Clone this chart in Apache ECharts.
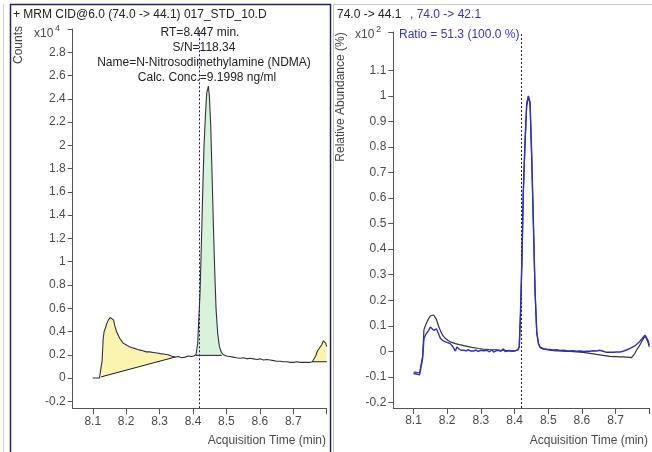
<!DOCTYPE html>
<html><head><meta charset="utf-8">
<script src="https://cdn.jsdelivr.net/npm/echarts@6/dist/echarts.min.js"></script>
<style>html,body{margin:0;padding:0;background:#fff}#c{width:652px;height:452px}</style>
</head><body><div id="c"></div>
<script>
// ---------- DATA ----------
// Left panel: quantifier trace (Counts x10^4)
const timeL = [8.100,8.105,8.110,8.115,8.120,8.125,8.128,8.131,8.134,8.138,8.142,8.147,8.152,8.157,8.162,8.166,8.171,8.176,8.181,8.186,8.191,8.197,8.203,8.210,8.218,8.226,8.234,8.242,8.250,8.260,8.270,8.281,8.292,8.303,8.315,8.325,8.335,8.346,8.356,8.366,8.376,8.386,8.396,8.402,8.409,8.414,8.418,8.421,8.425,8.429,8.433,8.437,8.441,8.446,8.449,8.453,8.457,8.461,8.465,8.469,8.474,8.479,8.485,8.491,8.500,8.510,8.520,8.530,8.541,8.551,8.561,8.571,8.581,8.591,8.601,8.611,8.621,8.631,8.641,8.651,8.661,8.671,8.681,8.691,8.701,8.711,8.721,8.731,8.741,8.751,8.757,8.762,8.767,8.772,8.779,8.786,8.790,8.793,8.797,8.800];
const countsL = [0.000,-0.005,0.000,-0.005,0.000,0.010,0.150,0.330,0.400,0.430,0.470,0.500,0.520,0.520,0.500,0.450,0.400,0.370,0.340,0.320,0.300,0.290,0.280,0.270,0.260,0.255,0.245,0.240,0.235,0.225,0.225,0.220,0.215,0.210,0.205,0.200,0.190,0.180,0.185,0.175,0.180,0.190,0.185,0.190,0.200,0.300,0.550,0.730,1.150,1.600,2.000,2.250,2.450,2.510,2.420,2.170,1.750,1.310,0.920,0.590,0.380,0.270,0.220,0.200,0.190,0.185,0.180,0.175,0.170,0.175,0.165,0.170,0.165,0.160,0.165,0.155,0.160,0.155,0.150,0.145,0.145,0.140,0.140,0.135,0.135,0.140,0.135,0.135,0.135,0.135,0.140,0.145,0.190,0.230,0.260,0.290,0.320,0.330,0.300,0.270];
// Integrated peaks: [startTime, baselineStart, endTime, baselineEnd]
const peakYellow1 = [8.125, 0.010, 8.346, 0.180];
const peakGreen   = [8.409, 0.195, 8.486, 0.195];
const peakYellow2 = [8.757, 0.140, 8.800, 0.140];
const rtLine = 8.424;

// Right panel: qualifier overlay (Relative Abundance % x10^2)
const timeR = [8.100,8.106,8.112,8.118,8.123,8.127,8.131,8.136,8.140,8.145,8.150,8.155,8.160,8.164,8.168,8.174,8.180,8.187,8.195,8.202,8.209,8.216,8.224,8.229,8.236,8.242,8.249,8.256,8.263,8.270,8.278,8.285,8.292,8.300,8.308,8.318,8.325,8.333,8.338,8.345,8.352,8.359,8.367,8.372,8.377,8.385,8.392,8.400,8.405,8.410,8.414,8.418,8.422,8.426,8.431,8.436,8.441,8.446,8.451,8.456,8.461,8.466,8.471,8.476,8.486,8.496,8.505,8.515,8.525,8.535,8.545,8.555,8.564,8.574,8.584,8.594,8.604,8.614,8.624,8.634,8.643,8.653,8.663,8.673,8.683,8.693,8.703,8.712,8.722,8.732,8.741,8.747,8.751,8.757,8.761,8.770,8.779,8.787,8.791,8.796,8.800];
const rel441 = [-0.082,-0.081,-0.083,-0.084,-0.085,-0.020,0.085,0.103,0.115,0.128,0.138,0.144,0.142,0.136,0.125,0.100,0.080,0.062,0.050,0.043,0.037,0.034,0.030,0.028,0.026,0.025,0.022,0.020,0.018,0.016,0.014,0.013,0.011,0.010,0.008,0.008,0.007,0.006,0.005,0.006,0.005,0.004,0.004,0.003,0.003,0.002,0.002,0.001,0.001,0.005,0.017,0.150,0.357,0.620,0.810,0.960,0.995,0.970,0.750,0.490,0.226,0.070,0.030,0.014,0.008,0.006,0.004,0.003,0.002,0.002,0.001,0.000,0.000,-0.001,-0.002,-0.003,-0.004,-0.006,-0.008,-0.010,-0.012,-0.014,-0.016,-0.018,-0.020,-0.021,-0.021,-0.022,-0.022,-0.023,-0.024,-0.025,-0.022,-0.009,0.002,0.020,0.042,0.059,0.050,0.035,0.017];
const rel421 = [-0.088,-0.088,-0.090,-0.092,-0.093,-0.030,0.050,0.065,0.070,0.082,0.095,0.090,0.082,0.088,0.088,0.070,0.050,0.042,0.037,0.034,0.030,0.020,0.001,0.017,0.008,0.004,0.004,0.002,0.006,0.001,0.001,0.005,0.000,0.004,0.002,0.004,-0.002,0.006,-0.003,0.002,0.004,0.000,0.010,-0.001,0.000,0.003,0.000,0.001,0.002,0.006,0.020,0.170,0.370,0.630,0.820,0.970,1.000,0.975,0.760,0.500,0.230,0.075,0.030,0.016,0.010,0.008,0.007,0.005,0.006,0.003,0.004,0.002,0.001,0.002,0.000,0.001,-0.001,0.000,0.000,0.002,0.001,0.004,0.000,-0.004,-0.004,-0.004,-0.003,-0.003,0.000,0.005,0.010,0.014,0.017,0.021,0.024,0.036,0.050,0.063,0.055,0.043,0.024];

// Tick labels
const xTicks = [8.1,8.2,8.3,8.4,8.5,8.6,8.7,8.8];
const xLabels = [8.1,8.2,8.3,8.4,8.5,8.6,8.7];
const yLabelsL = [-0.2,0,0.2,0.4,0.6,0.8,1,1.2,1.4,1.6,1.8,2,2.2,2.4,2.6,2.8];
const yTicksL = yLabelsL.concat([3.0]);
const yLabelsR = [-0.2,-0.1,0,0.1,0.2,0.3,0.4,0.5,0.6,0.7,0.8,0.9,1,1.1];
const yTicksR = yLabelsR.concat([1.25]);

// ---------- CHART ----------
const zip = (xs, ys) => xs.map((x, i) => [x, ys[i]]);
const traceL = zip(timeL, countsL);

function regionPolygon(pk) {
  const pts = traceL.filter(p => p[0] >= pk[0] - 1e-9 && p[0] <= pk[2] + 1e-9);
  pts.push([pk[2], pk[3]]);
  pts.push([pk[0], pk[1]]);
  return pts;
}
function fillSeries(pk, color) {
  const poly = regionPolygon(pk);
  return {
    type: 'custom', xAxisIndex: 0, yAxisIndex: 0, silent: true, z: 1,
    data: [poly[0]],
    renderItem: (params, api) => ({
      type: 'polygon',
      shape: { points: poly.map(p => api.coord(p)) },
      style: { fill: color, stroke: null }
    })
  };
}
function baseSeries(pk) {
  return {
    type: 'line', xAxisIndex: 0, yAxisIndex: 0, silent: true, z: 3,
    symbol: 'none', lineStyle: { color: '#1a1a1a', width: 1 },
    data: [[pk[0], pk[1]], [pk[2], pk[3]]]
  };
}

const FONT = 'Liberation Sans';
const lblColor = '#4a4a4a';
function xAxisDef(idx) {
  return {
    type: 'value', gridIndex: idx, min: 8.04, max: 8.8,
    axisLine: { show: true, onZero: false, lineStyle: { color: '#555', width: 1 } },
    axisTick: { show: true, length: 6, customValues: xTicks, lineStyle: { color: '#555' } },
    axisLabel: { customValues: xLabels, color: lblColor, fontSize: 12, fontFamily: FONT, margin: 7,
                 formatter: v => String(v) },
    splitLine: { show: false }
  };
}
function yAxisDef(idx, min, max, labels, ticks) {
  return {
    type: 'value', gridIndex: idx, min: min, max: max,
    axisLine: { show: true, onZero: false, lineStyle: { color: '#555', width: 1 } },
    axisTick: { show: true, length: 5, customValues: ticks, lineStyle: { color: '#555' } },
    axisLabel: { customValues: labels, color: lblColor, fontSize: 12, fontFamily: FONT, margin: 7,
                 formatter: v => String(v) },
    splitLine: { show: false }
  };
}
const rtMark = {
  symbol: 'none', silent: true, animation: false,
  label: { show: false },
  lineStyle: { type: [2, 2], color: '#1c1c50', width: 1 },
  data: [{ xAxis: rtLine }]
};

const txt = (x, y, text, extra) => ({
  type: 'text', x: x, y: y, silent: true,
  style: Object.assign({ text: text, fill: '#222', font: '12px "' + FONT + '"', textVerticalAlign: 'middle' }, extra || {})
});
const vtxt = (x, y, text) => ({
  type: 'text', x: x, y: y, rotation: Math.PI / 2, silent: true,
  style: { text: text, fill: '#444', font: '12px "' + FONT + '"', textAlign: 'center', textVerticalAlign: 'middle' }
});

const chart = echarts.init(document.getElementById('c'), null, { renderer: 'canvas' });
chart.setOption({
  animation: false,
  backgroundColor: '#ffffff',
  grid: [
    { left: 72.7, top: 29, width: 254, height: 379.3 },
    { left: 393.3, top: 32, width: 256, height: 376 }
  ],
  xAxis: [xAxisDef(0), xAxisDef(1)],
  yAxis: [
    yAxisDef(0, -0.26, 3.0, yLabelsL, yTicksL),
    yAxisDef(1, -0.222, 1.25, yLabelsR, yTicksR)
  ],
  series: [
    fillSeries(peakYellow1, '#fbf3b0'),
    fillSeries(peakGreen, '#d8f2dc'),
    fillSeries(peakYellow2, '#fbf3b0'),
    baseSeries(peakYellow1),
    baseSeries(peakGreen),
    baseSeries(peakYellow2),
    {
      type: 'line', xAxisIndex: 0, yAxisIndex: 0, z: 4, symbol: 'none', silent: true,
      lineStyle: { color: '#333', width: 1.1 }, data: traceL, markLine: rtMark
    },
    {
      type: 'line', xAxisIndex: 1, yAxisIndex: 1, z: 4, symbol: 'none', silent: true,
      lineStyle: { color: '#333', width: 1.2 }, data: zip(timeR, rel441), markLine: rtMark
    },
    {
      type: 'line', xAxisIndex: 1, yAxisIndex: 1, z: 5, symbol: 'none', silent: true,
      lineStyle: { color: '#2d2dd2', width: 1.4 }, data: zip(timeR, rel421)
    }
  ],
  graphic: [
    // panel frames
    { type: 'line', silent: true, shape: { x1: 3.5, y1: 4, x2: 3.5, y2: 452 }, style: { stroke: '#c9d4e6', lineWidth: 1 } },
    { type: 'rect', silent: true, shape: { x: 10.5, y: 4.5, width: 320, height: 460 }, style: { fill: 'none', stroke: '#22226a', lineWidth: 1.5 } },
    { type: 'rect', silent: true, shape: { x: 333.5, y: 4.5, width: 330, height: 460 }, style: { fill: 'none', stroke: '#c4c6d4', lineWidth: 1 } },
    // left panel texts
    txt(13, 15, '+ MRM CID@6.0 (74.0 -> 44.1) 017_STD_10.D'),
    vtxt(19, 45, 'Counts'),
    txt(34, 34, 'x10', { fill: lblColor }),
    txt(55, 29, '4', { fill: lblColor, font: '9px "' + FONT + '"' }),
    txt(200, 33, 'RT=8.447 min.', { textAlign: 'center' }),
    txt(204, 48, 'S/N=118.34', { textAlign: 'center' }),
    txt(204, 63, 'Name=N-Nitrosodimethylamine (NDMA)', { textAlign: 'center' }),
    txt(207, 78, 'Calc. Conc.=9.1998 ng/ml', { textAlign: 'center' }),
    txt(326, 441, 'Acquisition Time (min)', { fill: lblColor, textAlign: 'right' }),
    // right panel texts
    vtxt(341, 97, 'Relative Abundance (%)'),
    txt(337, 15, '74.0 -> 44.1'),
    txt(410, 15, ', 74.0 -> 42.1', { fill: '#3434c4' }),
    txt(355, 35, 'x10', { fill: lblColor }),
    txt(376, 30, '2', { fill: lblColor, font: '9px "' + FONT + '"' }),
    txt(399, 35, 'Ratio = 51.3 (100.0 %)', { fill: '#3434c4' }),
    txt(648, 441, 'Acquisition Time (min)', { fill: lblColor, textAlign: 'right' })
  ]
});
</script>
</body></html>
